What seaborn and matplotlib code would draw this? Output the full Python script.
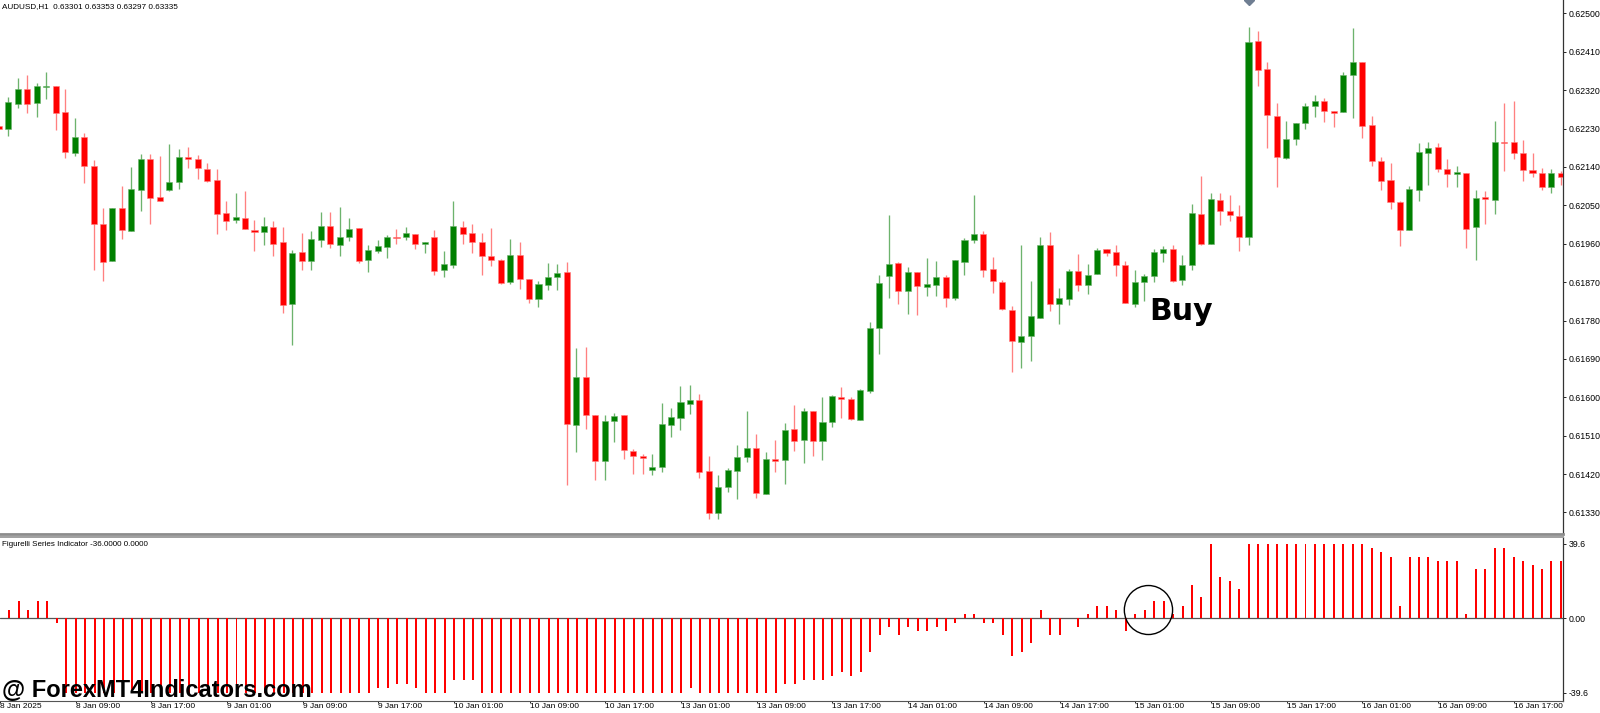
import numpy as np
import pandas as pd
import matplotlib
matplotlib.use("Agg")
import matplotlib.pyplot as plt
import seaborn as sns
from matplotlib.patches import Ellipse

# ---------------- data ----------------
opens = [
    0.62236, 0.62230, 0.62288, 0.62323, 0.62290, 0.62328, 0.62330, 0.62269, 0.62173, 0.62209,
    0.62141, 0.62007, 0.61920, 0.62044, 0.61989, 0.62086, 0.62159, 0.62069, 0.62086, 0.62105,
    0.62163, 0.62158, 0.62134, 0.62109, 0.62031, 0.62016, 0.62020, 0.61993, 0.61987, 0.61999,
    0.61964, 0.61819, 0.61941, 0.61919, 0.61968, 0.62002, 0.61957, 0.61975, 0.61996, 0.61921,
    0.61943, 0.61953, 0.61976, 0.61976, 0.61983, 0.61960, 0.61975, 0.61898, 0.61911, 0.61999,
    0.61984, 0.61964, 0.61931, 0.61921, 0.61870, 0.61934, 0.61877, 0.61831, 0.61863, 0.61883,
    0.61893, 0.61536, 0.61648, 0.61558, 0.61451, 0.61545, 0.61559, 0.61475, 0.61462, 0.61430,
    0.61437, 0.61534, 0.61552, 0.61585, 0.61594, 0.61427, 0.61328, 0.61389, 0.61427, 0.61459,
    0.61481, 0.61374, 0.61455, 0.61453, 0.61526, 0.61500, 0.61567, 0.61498, 0.61541, 0.61601,
    0.61596, 0.61547, 0.61615, 0.61763, 0.61885, 0.61915, 0.61850, 0.61893, 0.61859, 0.61863,
    0.61882, 0.61833, 0.61917, 0.61969, 0.61983, 0.61900, 0.61870, 0.61805, 0.61730, 0.61743,
    0.61787, 0.61958, 0.61819, 0.61831, 0.61895, 0.61864, 0.61888, 0.61947, 0.61941, 0.61910,
    0.61819, 0.61870, 0.61884, 0.61939, 0.61947, 0.61874, 0.61911, 0.62030, 0.61960, 0.62062,
    0.62037, 0.62026, 0.61975, 0.62434, 0.62369, 0.62260, 0.62162, 0.62206, 0.62244, 0.62282,
    0.62294, 0.62271, 0.62268, 0.62355, 0.62387, 0.62238, 0.62155, 0.62109, 0.62058, 0.61991,
    0.62086, 0.62173, 0.62187, 0.62134, 0.62123, 0.62125, 0.61998, 0.62069, 0.62062, 0.62199,
    0.62198, 0.62173, 0.62133, 0.62125, 0.62092, 0.62125,
]
highs = [
    0.62241, 0.62305, 0.62348, 0.62355, 0.62337, 0.62363, 0.62330, 0.62323, 0.62255, 0.62220,
    0.62156, 0.62044, 0.62044, 0.62096, 0.62140, 0.62170, 0.62170, 0.62166, 0.62194, 0.62183,
    0.62187, 0.62168, 0.62149, 0.62134, 0.62060, 0.62078, 0.62084, 0.62016, 0.62023, 0.62013,
    0.61999, 0.61945, 0.61985, 0.61990, 0.62034, 0.62034, 0.62046, 0.62020, 0.61996, 0.61956,
    0.61969, 0.61980, 0.61995, 0.61999, 0.61983, 0.61965, 0.61991, 0.61944, 0.62059, 0.62013,
    0.62006, 0.61984, 0.61996, 0.61925, 0.61972, 0.61965, 0.61878, 0.61873, 0.61914, 0.61912,
    0.61916, 0.61716, 0.61717, 0.61558, 0.61559, 0.61564, 0.61559, 0.61478, 0.61468, 0.61467,
    0.61586, 0.61576, 0.61626, 0.61630, 0.61608, 0.61462, 0.61417, 0.61434, 0.61488, 0.61568,
    0.61514, 0.61472, 0.61500, 0.61539, 0.61582, 0.61574, 0.61567, 0.61601, 0.61605, 0.61623,
    0.61600, 0.61619, 0.61776, 0.61886, 0.62027, 0.61916, 0.61906, 0.61893, 0.61927, 0.61920,
    0.61887, 0.61921, 0.61973, 0.62074, 0.61990, 0.61928, 0.61875, 0.61814, 0.61956, 0.61873,
    0.61975, 0.61987, 0.61857, 0.61901, 0.61937, 0.61912, 0.61951, 0.61948, 0.61957, 0.61920,
    0.61898, 0.61889, 0.61947, 0.61955, 0.61956, 0.61934, 0.62054, 0.62118, 0.62079, 0.62080,
    0.62073, 0.62051, 0.62467, 0.62459, 0.62387, 0.62290, 0.62247, 0.62244, 0.62290, 0.62308,
    0.62301, 0.62271, 0.62363, 0.62466, 0.62387, 0.62260, 0.62163, 0.62149, 0.62060, 0.62095,
    0.62196, 0.62199, 0.62195, 0.62159, 0.62142, 0.62125, 0.62085, 0.62084, 0.62247, 0.62290,
    0.62294, 0.62203, 0.62173, 0.62138, 0.62134, 0.62130,
]
lows = [
    0.62224, 0.62212, 0.62277, 0.62267, 0.62256, 0.62298, 0.62227, 0.62162, 0.62166, 0.62102,
    0.61898, 0.61873, 0.61920, 0.61970, 0.61989, 0.62037, 0.62007, 0.62061, 0.62084, 0.62088,
    0.62138, 0.62111, 0.62105, 0.61982, 0.61992, 0.62008, 0.61994, 0.61944, 0.61957, 0.61931,
    0.61798, 0.61723, 0.61898, 0.61898, 0.61953, 0.61950, 0.61931, 0.61967, 0.61914, 0.61894,
    0.61939, 0.61927, 0.61960, 0.61968, 0.61947, 0.61938, 0.61887, 0.61882, 0.61903, 0.61960,
    0.61938, 0.61887, 0.61907, 0.61866, 0.61866, 0.61855, 0.61821, 0.61811, 0.61852, 0.61852,
    0.61394, 0.61472, 0.61526, 0.61407, 0.61407, 0.61495, 0.61455, 0.61420, 0.61420, 0.61419,
    0.61424, 0.61506, 0.61524, 0.61560, 0.61412, 0.61314, 0.61315, 0.61379, 0.61361, 0.61448,
    0.61365, 0.61373, 0.61424, 0.61396, 0.61473, 0.61447, 0.61462, 0.61454, 0.61531, 0.61551,
    0.61547, 0.61547, 0.61611, 0.61701, 0.61833, 0.61819, 0.61795, 0.61794, 0.61838, 0.61838,
    0.61812, 0.61827, 0.61887, 0.61962, 0.61882, 0.61845, 0.61805, 0.61660, 0.61668, 0.61685,
    0.61787, 0.61803, 0.61771, 0.61817, 0.61850, 0.61841, 0.61888, 0.61931, 0.61885, 0.61822,
    0.61812, 0.61826, 0.61870, 0.61916, 0.61870, 0.61863, 0.61899, 0.61956, 0.61960, 0.62005,
    0.62013, 0.61942, 0.61956, 0.62329, 0.62184, 0.62094, 0.62159, 0.62192, 0.62228, 0.62258,
    0.62246, 0.62234, 0.62268, 0.62254, 0.62208, 0.62142, 0.62086, 0.62042, 0.61955, 0.61991,
    0.62061, 0.62098, 0.62127, 0.62092, 0.62092, 0.61950, 0.61921, 0.62007, 0.62030, 0.62130,
    0.62158, 0.62108, 0.62116, 0.62087, 0.62080, 0.62098,
]
closes = [
    0.62228, 0.62291, 0.62323, 0.62288, 0.62330, 0.62330, 0.62266, 0.62175, 0.62211, 0.62141,
    0.62007, 0.61918, 0.62044, 0.61991, 0.62088, 0.62158, 0.62066, 0.62061, 0.62105, 0.62163,
    0.62159, 0.62137, 0.62107, 0.62030, 0.62014, 0.62023, 0.61994, 0.61988, 0.62001, 0.61960,
    0.61816, 0.61938, 0.61920, 0.61970, 0.62001, 0.61960, 0.61976, 0.61994, 0.61920, 0.61945,
    0.61954, 0.61976, 0.61973, 0.61984, 0.61960, 0.61965, 0.61897, 0.61913, 0.62001, 0.61982,
    0.61964, 0.61932, 0.61921, 0.61869, 0.61933, 0.61877, 0.61831, 0.61865, 0.61883, 0.61891,
    0.61537, 0.61648, 0.61558, 0.61451, 0.61545, 0.61557, 0.61476, 0.61462, 0.61458, 0.61437,
    0.61537, 0.61553, 0.61588, 0.61594, 0.61426, 0.61328, 0.61390, 0.61430, 0.61460, 0.61481,
    0.61376, 0.61455, 0.61451, 0.61523, 0.61498, 0.61568, 0.61497, 0.61541, 0.61604, 0.61597,
    0.61548, 0.61618, 0.61762, 0.61868, 0.61913, 0.61849, 0.61894, 0.61860, 0.61865, 0.61881,
    0.61833, 0.61921, 0.61969, 0.61983, 0.61899, 0.61873, 0.61807, 0.61731, 0.61743, 0.61791,
    0.61958, 0.61819, 0.61833, 0.61897, 0.61863, 0.61887, 0.61945, 0.61938, 0.61910, 0.61822,
    0.61870, 0.61885, 0.61941, 0.61948, 0.61873, 0.61911, 0.62031, 0.61960, 0.62065, 0.62037,
    0.62027, 0.61976, 0.62433, 0.62366, 0.62261, 0.62163, 0.62205, 0.62242, 0.62283, 0.62294,
    0.62271, 0.62266, 0.62355, 0.62387, 0.62236, 0.62155, 0.62107, 0.62058, 0.61991, 0.62088,
    0.62174, 0.62185, 0.62134, 0.62123, 0.62127, 0.61995, 0.62067, 0.62064, 0.62199, 0.62195,
    0.62173, 0.62133, 0.62126, 0.62094, 0.62125, 0.62117,
]
figurelli = [
    0.0, 4.4, 9.1, 4.4, 9.1, 9.1, -2.3, -39.6, -39.6, -39.6,
    -39.6, -39.6, -39.6, -39.6, -39.6, -39.6, -39.6, -39.6, -39.6, -39.6,
    -39.6, -39.6, -39.6, -39.6, -39.6, -39.6, -39.6, -39.6, -39.6, -39.6,
    -39.6, -39.6, -39.6, -39.6, -39.6, -39.6, -39.6, -39.6, -39.6, -39.6,
    -37.3, -37.3, -35.2, -35.2, -37.3, -39.6, -39.6, -39.6, -32.9, -32.9,
    -32.9, -39.6, -39.6, -39.6, -39.6, -39.6, -39.6, -39.6, -39.6, -39.6,
    -39.6, -39.6, -39.6, -39.6, -39.6, -39.6, -39.6, -39.6, -39.6, -39.6,
    -39.6, -39.6, -39.6, -37.3, -39.6, -39.6, -39.6, -39.6, -39.6, -39.6,
    -39.6, -39.6, -39.6, -35.2, -35.2, -32.9, -32.9, -32.9, -30.7, -28.4,
    -30.7, -28.4, -17.8, -8.9, -4.4, -8.9, -4.4, -6.6, -6.6, -4.4,
    -6.6, -2.3, 2.1, 2.1, -2.3, -2.3, -8.9, -19.9, -17.8, -13.3,
    4.4, -8.9, -8.9, 0.0, -4.4, 2.1, 6.6, 6.6, 4.4, -6.6,
    2.1, 4.4, 9.1, 9.1, 2.1, 6.6, 17.8, 11.2, 39.6, 21.8,
    19.7, 15.6, 39.6, 39.6, 39.6, 39.6, 39.6, 39.6, 39.6, 39.6,
    39.6, 39.6, 39.6, 39.6, 39.6, 37.3, 35.2, 32.9, 6.6, 32.9,
    32.9, 32.9, 30.7, 30.7, 30.7, 2.1, 26.3, 26.3, 37.3, 37.3,
    32.9, 30.7, 28.6, 26.3, 30.7, 30.7,
]
time_labels = [
    "8 Jan 2025", "8 Jan 09:00", "8 Jan 17:00", "9 Jan 01:00", "9 Jan 09:00",
    "9 Jan 17:00", "10 Jan 01:00", "10 Jan 09:00", "10 Jan 17:00", "13 Jan 01:00",
    "13 Jan 09:00", "13 Jan 17:00", "14 Jan 01:00", "14 Jan 09:00", "14 Jan 17:00",
    "15 Jan 01:00", "15 Jan 09:00", "15 Jan 17:00", "16 Jan 01:00", "16 Jan 09:00",
    "16 Jan 17:00",
]
price_ticks = [0.62500, 0.62410, 0.62320, 0.62230, 0.62140, 0.62050, 0.61960,
               0.61870, 0.61780, 0.61690, 0.61600, 0.61510, 0.61420, 0.61330]
ind_ticks = [39.6, 0.0, -39.6]
ind_tick_labels = ["39.6", "0.00", "-39.6"]
chart_title = "AUDUSD,H1  0.63301 0.63353 0.63297 0.63335"
ind_title = "Figurelli Series Indicator -36.0000 0.0000"
signal_text = "Buy"
watermark = "@ ForexMT4Indicators.com"

# ---------------- styling ----------------
sns.set_theme(style="white")
plt.rcParams['font.family'] = ['Liberation Sans', 'DejaVu Sans']
plt.rcParams['axes.linewidth'] = 0.8

W, H = 1600, 713
fig = plt.figure(figsize=(W / 100, H / 100), dpi=100)
fig.patch.set_facecolor("white")


def rect(x0, y0, x1, y1):
    return [x0 / W, 1 - y1 / H, (x1 - x0) / W, (y1 - y0) / H]


ax = fig.add_axes(rect(0, 0, 1563, 534))
ax2 = fig.add_axes(rect(0, 537, 1563, 700.5))

# ---------------- candles ----------------
df = pd.DataFrame({"o": opens, "h": highs, "l": lows, "c": closes})
df["i"] = np.arange(len(df))
up = (df["c"] >= df["o"]).to_numpy()
body_col = np.where(up, "#008000", "#FF0000")
wick_col = np.where(up, "#6DB36D", "#FF8080")
ax.vlines(df["i"], df["l"], df["h"], colors=wick_col, linewidth=0.95, zorder=2)
body_lo = np.minimum(df["o"], df["c"])
body_h = np.maximum(np.abs(df["c"] - df["o"]), 0.000022)
ax.bar(df["i"], body_h, bottom=body_lo, width=0.64, color=body_col,
       edgecolor=wick_col, linewidth=0.4, zorder=3)

ax.set_xlim(0.12, 165.22)
ax.set_ylim(0.612796, 0.625312)
ax.yaxis.tick_right()
ax.set_yticks(price_ticks)
ax.set_yticklabels([f"{p:.5f}" for p in price_ticks])
ax.tick_params(axis="y", right=True, left=False, length=2.5, width=0.6,
               pad=1.5, labelsize=6.3, colors="#000000")
ax.set_xticks([])
for s in ("left", "top"):
    ax.spines[s].set_visible(False)
ax.spines["right"].set_color("#333333")
ax.spines["right"].set_linewidth(0.9)
ax.spines["bottom"].set_color("#8C8C8C")
ax.spines["bottom"].set_linewidth(2.0)
ax.grid(False)

# signal marker at the top and the "Buy" label
ax.plot([132], [1.0], marker="D", ms=5.5, color="#6F7E92",
        transform=ax.get_xaxis_transform(), clip_on=False, zorder=6)
ax.text(121.5, 0.61781, signal_text, fontsize=21.5, fontweight="bold",
        family="DejaVu Sans", ha="left", va="baseline", color="#000000", zorder=7)

# ---------------- indicator ----------------
ind_df = pd.DataFrame({"bar": np.arange(len(figurelli)), "value": figurelli})
sns.barplot(data=ind_df, x="bar", y="value", native_scale=True, width=0.21,
            color="#FF0000", saturation=1, errorbar=None, linewidth=0,
            ax=ax2, zorder=3)
ax2.axhline(0, color="#555555", lw=0.9, zorder=2)
ax2.set_xlim(0.12, 165.22)
ax2.set_ylim(-43.8, 43.3)
ax2.set_xlabel("")
ax2.set_ylabel("")
ax2.yaxis.tick_right()
ax2.set_yticks(ind_ticks)
ax2.set_yticklabels(ind_tick_labels)
ax2.tick_params(axis="y", right=True, left=False, length=2.5, width=0.6,
                pad=1.5, labelsize=6.3, colors="#000000")
time_positions = np.arange(len(time_labels)) * 8
ax2.set_xticks(time_positions)
ax2.set_xticklabels(time_labels)
for lab in ax2.get_xticklabels():
    lab.set_horizontalalignment("left")
ax2.tick_params(axis="x", bottom=True, length=1.6, width=0.6, pad=0.2,
                labelsize=6.0, colors="#000000")
ax2.spines["left"].set_visible(False)
ax2.spines["top"].set_color("#A0A0A0")
ax2.spines["top"].set_linewidth(1.4)
ax2.spines["right"].set_color("#333333")
ax2.spines["right"].set_linewidth(0.9)
ax2.spines["bottom"].set_color("#555555")
ax2.spines["bottom"].set_linewidth(0.8)
ax2.grid(False)

ax2.add_patch(Ellipse((121.4, 4.4), 5.1, 26.1, fill=False, edgecolor="#000000",
                      linewidth=1.0, clip_on=False, zorder=6))

# ---------------- texts ----------------
fig.text(2 / W, 1 - 6.5 / H, chart_title, fontsize=5.85, ha="left", va="center",
         color="#000000")
fig.text(2 / W, 1 - 544 / H, ind_title, fontsize=5.8, ha="left", va="center",
         color="#000000")
fig.text(1.5 / W, 1 - 697.3 / H, watermark, fontsize=17, fontweight="bold",
         family=["Liberation Sans", "DejaVu Sans"], ha="left", va="baseline",
         color="#000000", zorder=10)

fig.savefig("out.png", dpi=100, facecolor="white")
